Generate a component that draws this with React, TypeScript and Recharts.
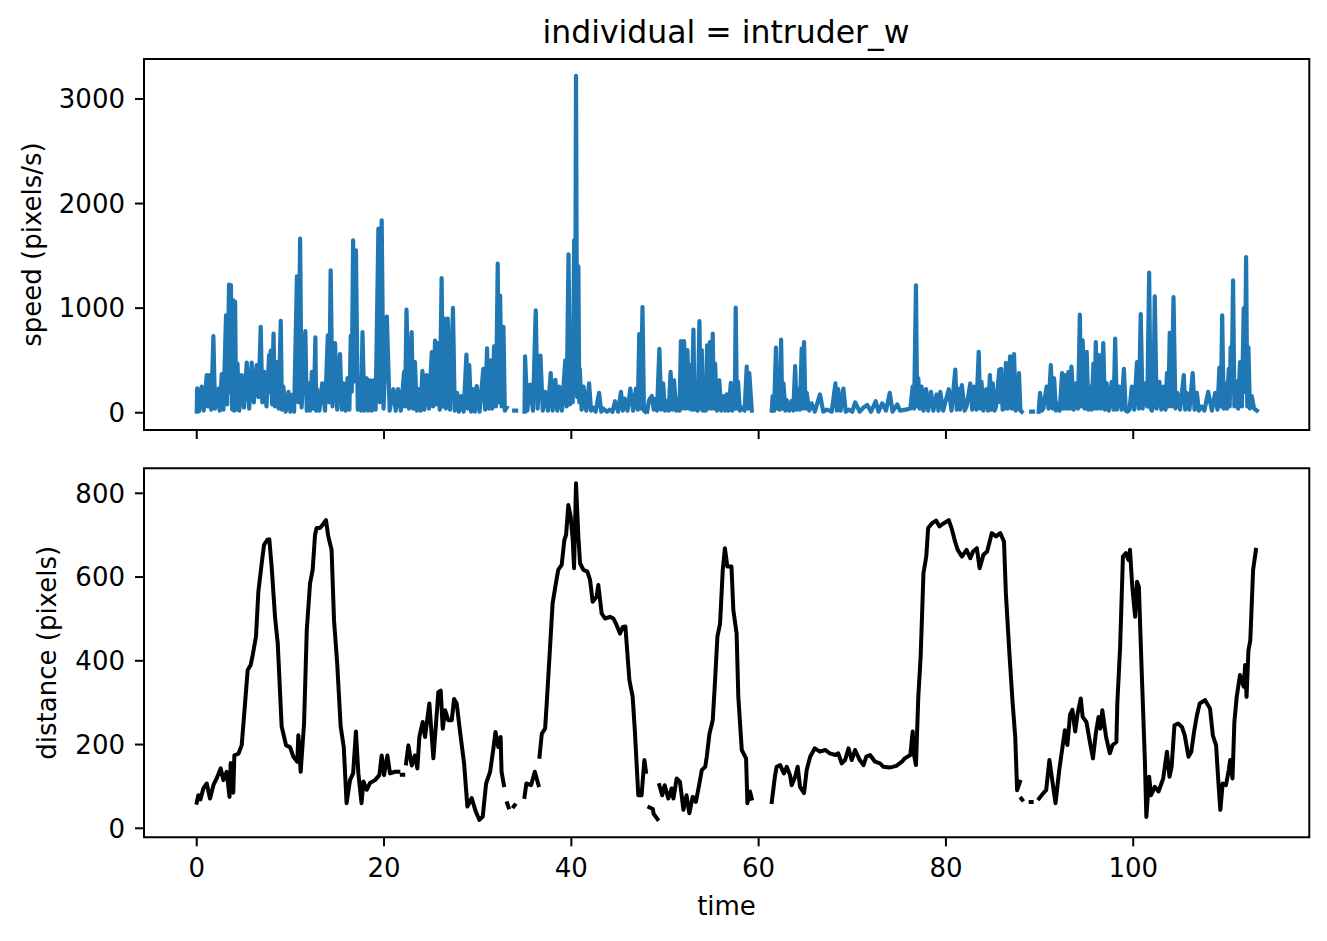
import { LineChart, Line, XAxis, YAxis, ReferenceArea } from "recharts";

const FONT = "'DejaVu Sans', 'Liberation Sans', sans-serif";
const BLUE = "#1f77b4";

const TIME_TICKS = [0, 20, 40, 60, 80, 100];
const SPEED_TICKS = [0, 1000, 2000, 3000];
const DIST_TICKS = [0, 200, 400, 600, 800];

const X_DOMAIN: [number, number] = [-5.63, 118.8];
const SPEED_DOMAIN: [number, number] = [-165, 3382];
const DIST_DOMAIN: [number, number] = [-21.5, 859.7];

// speed (pixels/s); null = gap in the track
const speedTime = [
  0, 0.05, 0.25, 0.53, 0.75, 1.07, 1.2, 1.4, 1.55, 1.78,
  1.95, 2.3, 2.45, 2.67, 2.85, 3.13, 3.25, 3.45, 3.55, 3.65,
  3.78, 3.92, 4.0, 4.1, 4.2, 4.35, 4.55, 4.8, 5.05, 5.34,
  5.6, 5.87, 6.1, 6.4, 6.6, 6.83, 7.0, 7.2, 7.45, 7.73,
  7.82, 7.9, 8.05, 8.2, 8.35, 8.55, 8.75, 8.97, 9.1, 9.25,
  9.5, 9.8, 10.0, 10.15, 10.4, 10.7, 10.85, 11.04, 11.2, 11.6,
  11.75, 11.95, 12.1, 12.3, 12.5, 12.67, 12.75, 12.85, 13.1, 13.4,
  13.7, 14.0, 14.15, 14.3, 14.5, 14.77, 15.0, 15.3, 15.5, 15.66,
  15.9, 16.1, 16.3, 16.45, 16.55, 16.7, 16.85, 17.0, 17.2, 17.4,
  17.55, 17.7, 17.9, 18.15, 18.3, 18.5, 18.7, 18.87, 19.1, 19.4,
  19.55, 19.75, 19.95, 20.3, 20.6, 21.0, 21.25, 21.5, 21.8, 22.14,
  22.25, 22.4, 22.65, 22.95, 23.1, 23.3, 23.5, 23.67, 23.9, 24.1,
  24.3, 24.55, 24.8, 25.1, 25.25, 25.45, 25.6, 25.73, 25.95, 26.15,
  26.3, 26.45, 26.6, 26.8, 27.05, 27.36, 27.55, 27.8, 28.0, 28.2,
  28.5, 28.8, 28.95, 29.1, 29.3, 29.5, 29.7, 29.9, 30.2, 30.6,
  30.8, 31.0, 31.2, 31.4, 31.55, 31.75, 31.95, 32.14, 32.25, 32.4,
  32.55, 32.75, 32.9, 33.1, 33.5, 33.9, 34.1, 34.5, 35.0, 35.06,
  35.3, 35.6, 35.9, 36.2, 36.4, 36.7, 36.95, 37.2, 37.5, 37.8,
  38.0, 38.3, 38.5, 38.7, 39.0, 39.35, 39.5, 39.7, 39.85, 40.05,
  40.15, 40.3, 40.4, 40.5, 40.62, 40.75, 40.85, 40.9, 41.1, 41.3,
  41.6, 41.9, 42.1, 42.3, 42.6, 42.96, 43.2, 43.4, 43.8, 44.1,
  44.4, 44.67, 45.0, 45.3, 45.5, 45.7, 46.0, 46.3, 46.6, 46.9,
  47.1, 47.25, 47.4, 47.6, 47.75, 47.9, 48.0, 48.1, 48.3, 48.6,
  48.8, 48.94, 49.15, 49.4, 49.6, 49.8, 50.0, 50.2, 50.4, 50.6,
  50.8, 50.97, 51.2, 51.4, 51.55, 51.7, 51.85, 52.04, 52.2, 52.4,
  52.55, 52.7, 52.85, 53.04, 53.15, 53.3, 53.5, 53.68, 53.8, 53.93,
  54.05, 54.2, 54.35, 54.5, 54.65, 54.8, 54.95, 55.1, 55.22, 55.35,
  55.55, 55.8, 56.0, 56.25, 56.45, 56.6, 56.8, 57.03, 57.2, 57.3,
  57.45, 57.55, 57.68, 57.8, 58.0, 58.2, 58.5, 58.73, 58.85, 59.0,
  59.27, 60.0, 61.4, 61.5, 61.65, 61.85, 61.98, 62.1, 62.25, 62.4,
  62.52, 62.65, 62.85, 63.0, 63.25, 63.5, 63.7, 63.9, 64.05, 64.25,
  64.4, 64.6, 64.72, 64.85, 65.0, 65.13, 65.4, 65.66, 66.0, 66.55,
  66.9, 67.3, 67.8, 68.2, 68.35, 68.5, 68.75, 69.05, 69.3, 69.6,
  70.0, 70.3, 70.8, 71.2, 71.6, 72.0, 72.5, 72.8, 73.2, 73.6,
  74.0, 74.3, 74.8, 75.1, 75.7, 76.2, 76.45, 76.6, 76.8, 76.92,
  77.05, 77.2, 77.4, 77.6, 77.88, 78.1, 78.4, 78.66, 79.0, 79.2,
  79.4, 79.7, 80.3, 80.6, 81.0, 81.15, 81.3, 81.5, 81.7, 82.0,
  82.2, 82.6, 82.8, 83.0, 83.25, 83.5, 83.65, 83.8, 84.0, 84.3,
  84.5, 84.7, 84.85, 85.0, 85.2, 85.35, 85.7, 85.8, 85.9, 86.05,
  86.2, 86.3, 86.4, 86.6, 86.85, 87.05, 87.27, 87.45, 87.55, 87.8,
  87.95, 88.1, 88.6, 89.1, 89.3, 89.6, 89.9, 90.05, 90.25, 90.4,
  90.75, 90.95, 91.2, 91.4, 91.55, 91.75, 91.9, 92.15, 92.4, 92.55,
  92.7, 92.9, 93.08, 93.25, 93.4, 93.65, 93.9, 94.1, 94.3, 94.45,
  94.6, 94.8, 95.03, 95.2, 95.4, 95.55, 95.75, 95.88, 96.0, 96.15,
  96.35, 96.55, 96.8, 96.98, 97.17, 97.4, 97.7, 97.9, 98.07, 98.25,
  98.5, 98.75, 99.0, 99.2, 99.4, 99.6, 99.85, 100.1, 100.4, 100.6,
  100.8, 101.0, 101.3, 101.5, 101.7, 101.85, 102.0, 102.15, 102.3, 102.5,
  102.8, 103.0, 103.25, 103.45, 103.6, 103.75, 103.9, 104.1, 104.3, 104.5,
  104.7, 105.0, 105.4, 105.55, 105.7, 106.0, 106.35, 106.55, 106.8, 107.0,
  107.3, 107.6, 108.0, 108.4, 108.75, 109.0, 109.2, 109.35, 109.5, 109.65,
  109.8, 110.0, 110.2, 110.3, 110.4, 110.5, 110.66, 110.8, 111.0, 111.2,
  111.4, 111.6, 111.8, 111.92, 112.05, 112.18, 112.3, 112.45, 112.65, 112.9,
  113.2,
];

const speedValue: (number | null)[] = [
  10, 233, 15, 250, 20, 360, 60, 360, 30, 732,
  40, 230, 20, 370, 30, 932, 80, 1225, 200, 1220,
  30, 1075, 20, 1060, 30, 471, 20, 360, 50, 480,
  40, 480, 100, 455, 150, 820, 100, 390, 60, 550,
  200, 595, 80, 757, 60, 485, 40, 878, 30, 250,
  10, 200, 10, 170, 10, 1304, 100, 1664, 50, 780,
  20, 280, 20, 390, 40, 720, 20, 225, 20, 280,
  20, 740, 100, 1362, 60, 665, 30, 560, 30, 280,
  20, 330, 30, 735, 200, 1648, 300, 1552, 30, 280,
  20, 770, 20, 330, 20, 310, 20, 310, 30, 1760,
  100, 1839, 40, 920, 20, 225, 20, 225, 20, 390,
  60, 986, 40, 770, 40, 485, 20, 225, 20, 400,
  30, 360, 40, 580, 60, 690, 80, 665, 30, 1288,
  60, 900, 40, 900, 30, 1002, 20, 190, 10, 160,
  10, 555, 40, 455, 10, 225, 10, 255, 10, 420,
  30, 615, 40, 500, 40, 635, 60, 1425, 100, 1120,
  60, 820, 20, 50, null, 20, 20, null, 10, 540,
  20, 270, 20, 980, 40, 547, 20, 200, 20, 380,
  20, 315, 20, 250, 20, 500, 60, 1514, 80, 644,
  100, 1648, 200, 3222, 150, 1400, 100, 420, 30, 250,
  20, 280, 20, 50, 10, 190, 10, 40, 10, 30,
  10, 110, 10, 200, 20, 135, 20, 230, 20, 230,
  30, 751, 40, 1011, 20, 10, null, 10, 120, 160,
  30, 130, 20, 610, 30, 280, 20, 110, 20, 390,
  30, 310, 20, 130, 20, 686, 40, 686, 40, 598,
  40, 455, 30, 795, 30, 160, 20, 875, 40, 598,
  20, 190, 20, 644, 40, 676, 40, 756, 40, 470,
  20, 310, 20, 160, 20, 175, 20, 285, 20, 50,
  40, 1006, 40, 295, 20, 50, 20, 440, 40, 380,
  20, null, 20, 160, 20, 622, 40, 250, 30, 699,
  40, 280, 20, 120, 20, 110, 20, 445, 30, 225,
  30, 614, 40, 676, 40, 190, 20, 90, 10, 175,
  10, 30, 10, 280, 20, 225, 20, 230, 10, 30,
  10, 100, 10, 50, 75, 10, 110, 10, 90, 20,
  190, 10, 80, 20, 30, 40, 250, 40, 1218, 60,
  330, 40, 250, 20, 225, 20, 200, 20, 175, 20,
  200, 20, 225, 20, 413, 30, 230, 30, 265, 20,
  60, 280, 30, 250, 30, 583, 40, 295, 20, 225,
  20, 360, 30, 280, 20, 60, 413, 100, 420, 30,
  280, 40, 477, 40, 540, 40, 560, 20, 40, 380,
  20, 10, null, 10, 10, null, 10, 190, 20, 40,
  250, 40, 455, 40, 330, 20, 90, 20, 380, 40,
  360, 40, 390, 40, 440, 30, 280, 40, 938, 60,
  693, 40, 583, 30, 250, 30, 470, 40, 676, 40,
  550, 40, 666, 30, 280, 20, 295, 30, 708, 30,
  250, 30, 420, 20, 10, 30, 250, 30, 485, 40,
  944, 40, 280, 60, 1340, 40, 20, 100, 1113, 40,
  295, 30, 250, 30, 380, 60, 763, 60, 1106, 40,
  190, 30, 360, 30, 190, 30, 380, 30, 190, 20,
  60, 20, 200, 20, 190, 30, 432, 60, 932, 40,
  280, 40, 420, 60, 625, 200, 1266, 60, 300, 40,
  485, 60, 1000, 200, 1489, 60, 625, 40, 160, 40,
  20,
];

// distance (pixels); null = gap in the track
const distTime = [
  0, 0.17, 0.4, 0.7, 1.07, 1.42, 1.78, 2.2, 2.56, 2.85,
  3.2, 3.5, 3.63, 3.9, 4.02, 4.45, 4.8, 5.16, 5.44, 5.76,
  5.98, 6.33, 6.58, 6.94, 7.19, 7.54, 7.75, 8.0, 8.36, 8.65,
  9.07, 9.54, 9.96, 10.32, 10.74, 10.85, 11.1, 11.46, 11.75, 12.1,
  12.38, 12.63, 12.8, 13.16, 13.45, 13.8, 14.05, 14.4, 14.66, 15.0,
  15.37, 15.7, 16.0, 16.37, 16.7, 17.0, 17.26, 17.6, 17.8, 18.15,
  18.5, 19.04, 19.5, 19.75, 20.0, 20.36, 20.64, 21.18, 21.53, 21.75,
  21.9, 22.05, 22.2, 22.35, 22.6, 22.96, 23.3, 23.56, 23.77, 24.13,
  24.38, 24.63, 24.84, 25.09, 25.27, 25.55, 25.8, 26.05, 26.27, 26.52,
  26.87, 27.23, 27.48, 27.76, 28.1, 28.55, 28.9, 29.36, 29.8, 30.18,
  30.54, 30.9, 31.33, 31.7, 31.9, 32.2, 32.45, 32.55, 32.8, 33.0,
  33.15, 33.3, 33.6, 33.85, 33.95, 34.5, 35.0, 35.2, 35.7, 36.1,
  36.5, 36.55, 36.6, 36.85, 37.2, 37.37, 37.7, 38.0, 38.26, 38.6,
  38.97, 39.26, 39.44, 39.68, 39.93, 40.15, 40.29, 40.5, 40.75, 40.93,
  41.29, 41.71, 42.0, 42.28, 42.7, 42.88, 43.24, 43.6, 44.13, 44.5,
  44.84, 45.2, 45.5, 45.77, 46.2, 46.55, 46.8, 47.15, 47.5, 47.8,
  47.97, 48.15, 48.33, 48.7, 48.8, 49.2, 49.3, 49.4, 49.7, 49.97,
  50.35, 50.7, 50.9, 51.25, 51.6, 51.97, 52.3, 52.6, 52.96, 53.3,
  53.68, 53.93, 54.3, 54.46, 54.75, 55.1, 55.35, 55.6, 55.88, 56.17,
  56.4, 56.66, 57.1, 57.3, 57.65, 57.83, 58.2, 58.66, 58.8, 59.08,
  59.26, 60.0, 61.4, 61.76, 61.93, 62.3, 62.7, 63.0, 63.35, 63.53,
  63.9, 64.17, 64.42, 64.85, 65.13, 65.5, 66.0, 66.55, 67.1, 67.6,
  68.2, 68.5, 68.87, 69.23, 69.6, 69.94, 70.3, 70.8, 71.2, 71.5,
  71.9, 72.43, 72.96, 73.3, 74.0, 74.7, 75.3, 75.6, 76.2, 76.45,
  76.6, 76.8, 77.05, 77.3, 77.6, 77.9, 78.1, 78.5, 78.95, 79.3,
  79.74, 80.3, 80.6, 80.97, 81.26, 81.7, 82.2, 82.6, 82.9, 83.3,
  83.6, 84.0, 84.4, 84.9, 85.35, 85.8, 86.2, 86.4, 86.8, 87.1,
  87.4, 87.6, 87.9, 88.0, 88.05, 88.15, 88.5, 89.05, 89.15, 89.5,
  89.95, 90.4, 90.7, 91.05, 91.3, 91.7, 92.1, 92.4, 92.7, 92.97,
  93.25, 93.5, 93.8, 94.06, 94.4, 94.6, 95.0, 95.4, 95.7, 96.0,
  96.3, 96.5, 96.7, 97.1, 97.5, 97.8, 98.2, 98.3, 98.6, 98.9,
  99.2, 99.5, 99.65, 99.9, 100.2, 100.4, 100.6, 100.9, 101.24, 101.4,
  101.7, 101.9, 102.3, 102.7, 103.2, 103.6, 103.87, 104.1, 104.4, 104.8,
  105.2, 105.5, 105.9, 106.2, 106.5, 106.8, 107.1, 107.67, 108.2, 108.5,
  108.85, 109.1, 109.3, 109.55, 109.9, 110.2, 110.35, 110.6, 110.8, 111.05,
  111.4, 111.8, 111.95, 112.1, 112.3, 112.5, 112.8, 113.1,
];

const distValue: (number | null)[] = [
  61, 79, 69, 95, 107, 71, 103, 123, 143, 115,
  135, 75, 156, 85, 174, 178, 198, 298, 378, 390,
  414, 458, 565, 633, 677, 689, 690, 625, 505, 442,
  243, 198, 194, 171, 159, 222, 135, 250, 473, 585,
  617, 700, 717, 717, 725, 736, 697, 665, 497, 393,
  243, 194, 60, 115, 131, 231, 131, 60, 112, 92,
  108, 115, 127, 174, 127, 174, 131, 135, 135, null,
  128, 128, null, 155, 198, 150, 174, 143, 218, 254,
  218, 262, 298, 222, 167, 250, 325, 329, 238, 282,
  258, 258, 309, 298, 234, 155, 52, 72, 40, 20,
  28, 107, 135, 194, 230, 194, 218, 135, 103, null,
  60, 50, null, 52, 55, null, 75, 107, 103, 135,
  103, null, 171, 226, 238, 298, 422, 537, 573, 617,
  629, 689, 701, 772, 744, 689, 621, 824, 697, 633,
  617, 613, 593, 541, 553, 581, 513, 501, 505, 501,
  485, 465, 481, 482, 354, 314, 226, 79, 79, 163,
  135, null, 50, 46, 34, 22, null, 103, 79, 103,
  71, 95, 71, 119, 111, 44, 79, 36, 75, 63,
  107, 139, 147, 171, 226, 258, 354, 458, 489, 617,
  669, 625, 625, 521, 465, 314, 187, 167, 60, 88,
  71, null, 63, 127, 147, 151, 131, 147, 127, 103,
  123, 147, 99, 84, 139, 171, 191, 183, 187, 179,
  175, 179, 155, 163, 191, 163, 187, 163, 151, 171,
  175, 159, 155, 147, 145, 149, 159, 167, 175, 231,
  175, 151, 314, 410, 609, 649, 717, 728, 735, 721,
  728, 736, 717, 685, 665, 649, 665, 645, 661, 669,
  621, 653, 661, 705, 697, 705, 685, 561, 410, 306,
  218, 91, 111, null, 71, 68, null, 63, 63, null,
  71, 84, 91, 163, 123, 60, 139, 187, 234, 199,
  271, 283, 231, 274, 310, 266, 254, 203, 167, 226,
  266, 238, 282, 218, 179, 199, 206, 298, 433, 649,
  657, 641, 665, 577, 505, 589, 577, 378, 163, 27,
  123, 79, 99, 88, 119, 183, 123, 147, 246, 250,
  242, 222, 171, 183, 231, 270, 298, 306, 286, 222,
  198, 107, 44, 107, 103, 139, 163, 119, 254, 314,
  366, 338, 390, 314, 425, 449, 617, 665,
];

const speedRows = speedTime.map((t, i) => ({ t, v: speedValue[i] }));
const distRows = distTime.map((t, i) => ({ t, v: distValue[i] }));

const tickStyle = { fontSize: 26, fill: "#000", fontFamily: FONT };
const tickLineStyle = { stroke: "#000", strokeWidth: 2 };

function AxisTitle({ tx, ty, text, vertical, size = 26 }: any) {
  return (
    <text
      x={tx}
      y={ty}
      transform={vertical ? `rotate(-90 ${tx} ${ty})` : undefined}
      textAnchor="middle"
      fontSize={size}
      fontFamily={FONT}
      fill="#000"
    >
      {text}
    </text>
  );
}

export default function App() {
  return (
    <div
      style={{
        position: "absolute",
        left: 0,
        top: 0,
        width: 1327,
        height: 941,
        background: "#fff",
        fontFamily: FONT,
      }}
    >
      <LineChart
        width={1327}
        height={450}
        data={speedRows}
        margin={{ top: 59, right: 17.7, bottom: 5, left: 0 }}
      >
        <XAxis
          dataKey="t"
          type="number"
          domain={X_DOMAIN}
          allowDataOverflow
          ticks={TIME_TICKS}
          tickFormatter={() => ""}
          tickSize={9}
          tickLine={tickLineStyle}
          axisLine={false}
          height={15}
        />
        <YAxis
          type="number"
          domain={SPEED_DOMAIN}
          allowDataOverflow
          ticks={SPEED_TICKS}
          width={144}
          tickSize={9}
          tickMargin={10}
          tick={tickStyle}
          tickLine={tickLineStyle}
          axisLine={false}
          label={<AxisTitle tx={41} ty={244.5} text="speed (pixels/s)" vertical />}
        />
        <ReferenceArea
          x1={X_DOMAIN[0]}
          x2={X_DOMAIN[1]}
          y1={SPEED_DOMAIN[0]}
          y2={SPEED_DOMAIN[1]}
          fill="none"
          stroke="#000"
          strokeWidth={2}
          ifOverflow="visible"
          label={<AxisTitle tx={726} ty={42.7} text="individual = intruder_w" size={31.5} />}
        />
        <Line
          type="linear"
          dataKey="v"
          stroke={BLUE}
          strokeWidth={4.2}
          strokeLinejoin="round"
          strokeLinecap="square"
          dot={false}
          activeDot={false}
          connectNulls={false}
          isAnimationActive={false}
        />
      </LineChart>

      <div style={{ position: "absolute", left: 0, top: 450 }}>
        <LineChart
          width={1327}
          height={491}
          data={distRows}
          margin={{ top: 18.3, right: 17.7, bottom: 0, left: 0 }}
        >
          <XAxis
            dataKey="t"
            type="number"
            domain={X_DOMAIN}
            allowDataOverflow
            ticks={TIME_TICKS}
            tickSize={9}
            tickMargin={12.5}
            tick={tickStyle}
            tickLine={tickLineStyle}
            axisLine={false}
            height={103.7}
            label={<AxisTitle tx={726.5} ty={465} text="time" />}
          />
          <YAxis
            type="number"
            domain={DIST_DOMAIN}
            allowDataOverflow
            ticks={DIST_TICKS}
            width={144}
            tickSize={9}
            tickMargin={10}
            tick={tickStyle}
            tickLine={tickLineStyle}
            axisLine={false}
            label={<AxisTitle tx={55.8} ty={202.8} text="distance (pixels)" vertical />}
          />
          <ReferenceArea
            x1={X_DOMAIN[0]}
            x2={X_DOMAIN[1]}
            y1={DIST_DOMAIN[0]}
            y2={DIST_DOMAIN[1]}
            fill="none"
            stroke="#000"
            strokeWidth={2}
            ifOverflow="visible"
          />
          <Line
            type="linear"
            dataKey="v"
            stroke="#000"
            strokeWidth={4}
            strokeLinejoin="round"
            strokeLinecap="square"
            dot={false}
            activeDot={false}
            connectNulls={false}
            isAnimationActive={false}
          />
        </LineChart>
      </div>
    </div>
  );
}
